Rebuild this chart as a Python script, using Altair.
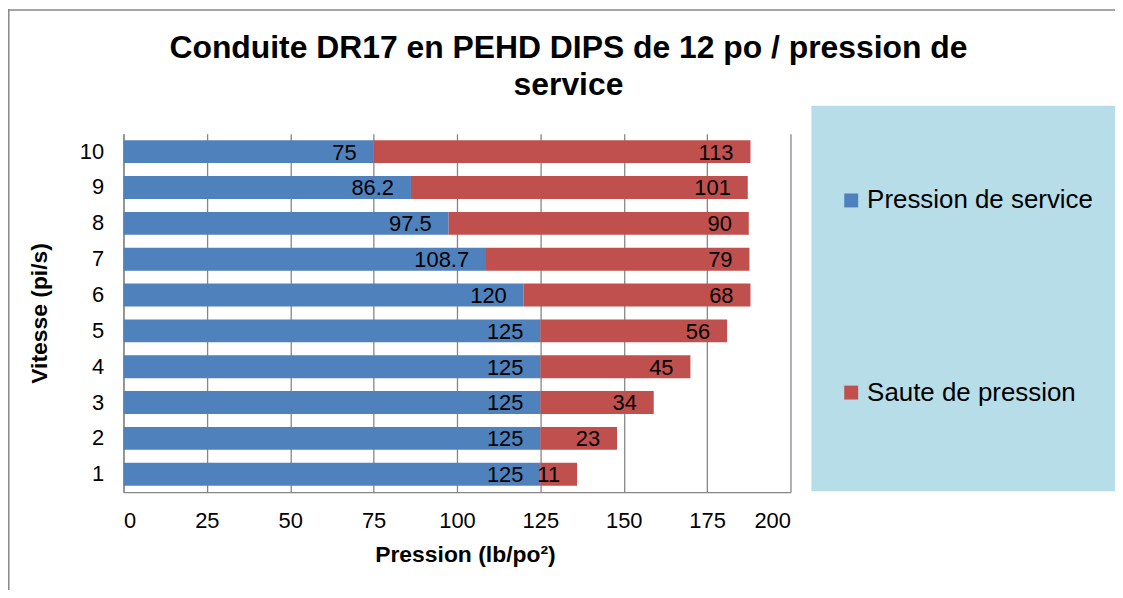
import altair as alt
import pandas as pd

# ---- data ----
vitesse = [1, 2, 3, 4, 5, 6, 7, 8, 9, 10]
pression_service = [125, 125, 125, 125, 125, 120, 108.7, 97.5, 86.2, 75]
saute_pression = [11, 23, 34, 45, 56, 68, 79, 90, 101, 113]
series = ["Pression de service", "Saute de pression"]
colors = ["#4F81BD", "#C0504D"]
x_ticks = [0, 25, 50, 75, 100, 125, 150, 175, 200]
title_lines = ["Conduite DR17 en PEHD DIPS de 12 po / pression de", "service"]

rows = []
for v, p, s in zip(vitesse, pression_service, saute_pression):
    rows.append({"vitesse": v, "series": series[0], "ord": 0, "value": p})
    rows.append({"vitesse": v, "series": series[1], "ord": 1, "value": s})
df = pd.DataFrame(rows)

FONT = "Liberation Sans"
GRID = "#868686"
W, H = 670, 360
PAD_L, PAD_T = 116, 125
TOTAL_W, TOTAL_H = 1112, 582

yenc = alt.Y(
    "vitesse:O",
    sort="descending",
    scale=alt.Scale(paddingInner=0.36, paddingOuter=0.18),
    axis=alt.Axis(
        title="Vitesse (pi/s)",
        titleFontSize=23,
        titleFontWeight="bold",
        titleColor="black",
        titleX=-84,
        titleY=H / 2,
        titleAngle=-90,
        titleAlign="center",
        titleBaseline="middle",
        labelFontSize=22,
        labelColor="black",
        labelPadding=20,
        ticks=False,
        domainColor=GRID,
        domainWidth=1.3,
        grid=False,
    ),
)

xenc = alt.X(
    "value:Q",
    stack="zero",
    scale=alt.Scale(domain=[0, 200], nice=False),
    axis=alt.Axis(
        title="Pression (lb/po²)",
        values=x_ticks,
        titleFontSize=23,
        titleFontWeight="bold",
        titleColor="black",
        titleX=343,
        titleY=52,
        titleBaseline="top",
        labelFontSize=22,
        labelColor="black",
        labelPadding=19,
        ticks=False,
        grid=True,
        gridColor=GRID,
        gridWidth=1.3,
        domainColor=GRID,
        domainWidth=1.3,
    ),
)

deco = pd.DataFrame({"d": [0]})

legend_box = alt.Chart(deco).mark_rect(color="#B7DDE8").encode(
    x=alt.value(691), x2=alt.value(996), y=alt.value(-28), y2=alt.value(359)
)
border_left = alt.Chart(deco).mark_rule(color=GRID, strokeWidth=1.5).encode(
    x=alt.value(-115.2), y=alt.value(-125), y2=alt.value(460)
)
border_top = alt.Chart(deco).mark_rule(color=GRID, strokeWidth=1.5).encode(
    x=alt.value(-116), x2=alt.value(996), y=alt.value(-124.2)
)

title = alt.Chart(deco).mark_text(
    font=FONT, fontSize=32, fontWeight="bold", color="black",
    align="center", baseline="alphabetic", lineBreak="\n", lineHeight=37,
).encode(
    x=alt.value(447), y=alt.value(-76), text=alt.value("\n".join(title_lines))
)

bars = alt.Chart(df).mark_bar(size=23).encode(
    y=yenc,
    x=xenc,
    color=alt.Color(
        "series:N",
        scale=alt.Scale(domain=series, range=colors),
        legend=alt.Legend(
            title=None,
            orient="none",
            legendX=718,
            legendY=54,
            direction="vertical",
            symbolType="square",
            symbolSize=196,
            symbolStrokeWidth=0,
            labelFontSize=26,
            labelColor="black",
            labelOffset=3,
            labelLimit=400,
            rowPadding=167,
            padding=0,
            zindex=1,
        ),
    ),
    order=alt.Order("ord:Q"),
)

labels = alt.Chart(df).mark_text(
    align="right", baseline="middle", dx=-17, dy=1, fontSize=22, color="black", font=FONT
).encode(
    y=alt.Y("vitesse:O", sort="descending"),
    x=alt.X("value:Q", stack="zero"),
    detail="series:N",
    order=alt.Order("ord:Q"),
    text=alt.Text("value:Q", format="~g"),
)

chart = (
    alt.layer(legend_box, border_left, border_top, title, bars, labels)
    .properties(
        width=W,
        height=H,
        autosize=alt.AutoSizeParams(type="none"),
        padding={"left": PAD_L, "top": PAD_T, "right": TOTAL_W - PAD_L - W, "bottom": TOTAL_H - PAD_T - H},
    )
    .configure(font=FONT)
    .configure_view(stroke=None)
)

chart.save("out.html", embed_options={"renderer": "svg", "actions": False})
